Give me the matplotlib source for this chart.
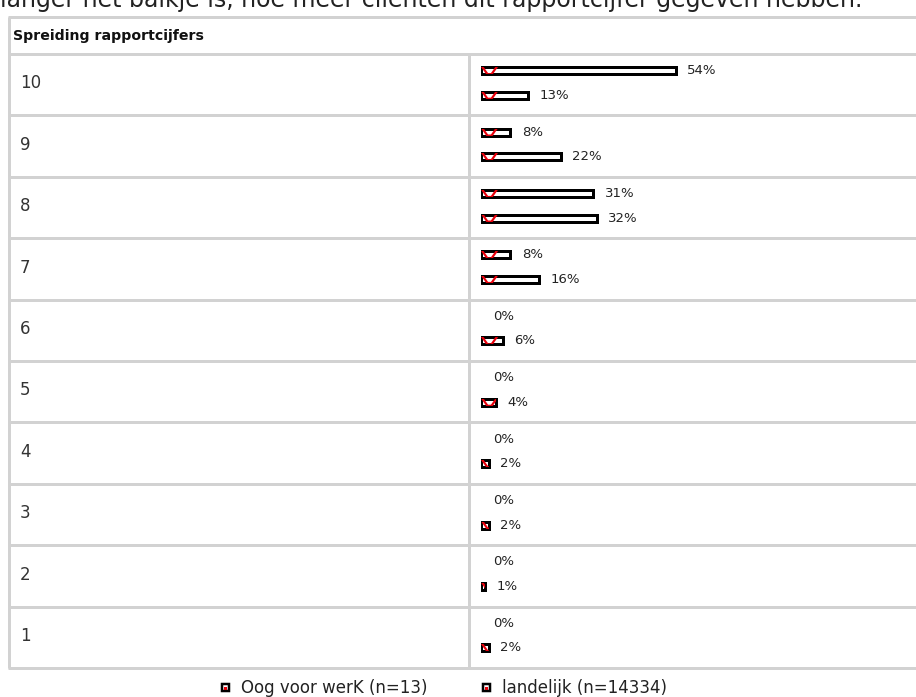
import matplotlib
matplotlib.use('Agg')
import matplotlib.pyplot as plt
import matplotlib.transforms as mtransforms
from matplotlib.patches import Rectangle

categories = ['10', '9', '8', '7', '6', '5', '4', '3', '2', '1']
oog_voor_werk = [54, 8, 31, 8, 0, 0, 0, 0, 0, 0]
landelijk = [13, 22, 32, 16, 6, 4, 2, 2, 1, 2]
series_labels = ['Oog voor werK (n=13)', 'landelijk (n=14334)']
header = 'Spreiding rapportcijfers'
intro = 'langer het balkje is, hoe meer cliënten dit rapportcijfer gegeven hebben.'

W, H = 916, 697
fig = plt.figure(figsize=(W / 100, H / 100), dpi=100)
PT = 72 / 100  # points per pixel

# background axes in pixel units for the table frame
bg = fig.add_axes([0, 0, 1, 1])
bg.set_xlim(0, W)
bg.set_ylim(H, 0)
bg.axis('off')

grid_c = '#d2d2d2'
grid_lw = 3 * PT
top_hdr = 17
top_rows = 54
row_h = 61.4
bar_x0 = 481.5
px_per_pct = 3.6
n = len(categories)
bottom = top_rows + n * row_h

# bar axes: x in percent, y in rows
ax = fig.add_axes([bar_x0 / W, 1 - bottom / H, (W - bar_x0) / W, n * row_h / H])
ax.set_xlim(0, (W - bar_x0) / px_per_pct)
ax.set_ylim(n, 0)
ax.axis('off')

# intro text, cut off at the top
bg.text(0, 7, intro, fontsize=17, color='#222222', va='baseline', ha='left')

# table frame
bg.plot([8, W], [top_hdr, top_hdr], color=grid_c, lw=grid_lw, solid_capstyle='butt')
bg.plot([8.5, 8.5], [top_hdr, bottom], color=grid_c, lw=grid_lw, solid_capstyle='butt')
bg.text(13, 36, header, fontsize=10.2, fontweight='bold', color='#111111', va='center')

mix = mtransforms.blended_transform_factory(bg.transData, ax.transData)
for i in range(n + 1):
    bg.plot([8, W], [i, i], color=grid_c, lw=grid_lw, transform=mix, solid_capstyle='butt')
bg.plot([469, 469], [0, n], color=grid_c, lw=grid_lw, transform=mix, solid_capstyle='butt')

for i, c in enumerate(categories):
    bg.text(20, i + 0.48, c, fontsize=12, color='#333333', va='center', ha='left', transform=mix)

bar_h = 7 / row_h
offsets = [16.7 / row_h, 41.3 / row_h]
dx = 1 / px_per_pct

for series, off in zip([oog_voor_werk, landelijk], offsets):
    ys = [i + off for i in range(n)]
    for y, v in zip(ys, series):
        if v > 0:
            bar = ax.barh(y, v, height=bar_h, left=0, color='white',
                          edgecolor='black', linewidth=3 * PT)[0]
            yt, yb = y - bar_h / 2, y + bar_h / 2
            ln, = ax.plot([1 * dx, 6 * dx, 10 * dx, 15 * dx], [yt, yb, yb, yt],
                          color='#e8000b', lw=2.2 * PT)
            ln.set_clip_path(bar)
        ax.annotate(f'{v}%', (v, y), xytext=(11.5 * PT, 0), textcoords='offset points',
                    fontsize=9.5, color='#222222', va='center', ha='left')

# legend
for lx, lab in [(220, series_labels[0]), (481, series_labels[1])]:
    bg.add_patch(Rectangle((lx + 1.5, 684), 7, 7, facecolor='white', edgecolor='black', lw=2.5 * PT))
    bg.add_patch(Rectangle((lx + 3.5, 686.5), 3, 3, facecolor='#e8000b', edgecolor='none'))
    bg.text(lx + 21, 688, lab, fontsize=12, color='#222222', va='center', ha='left')

fig.savefig('out.png', dpi=100)
